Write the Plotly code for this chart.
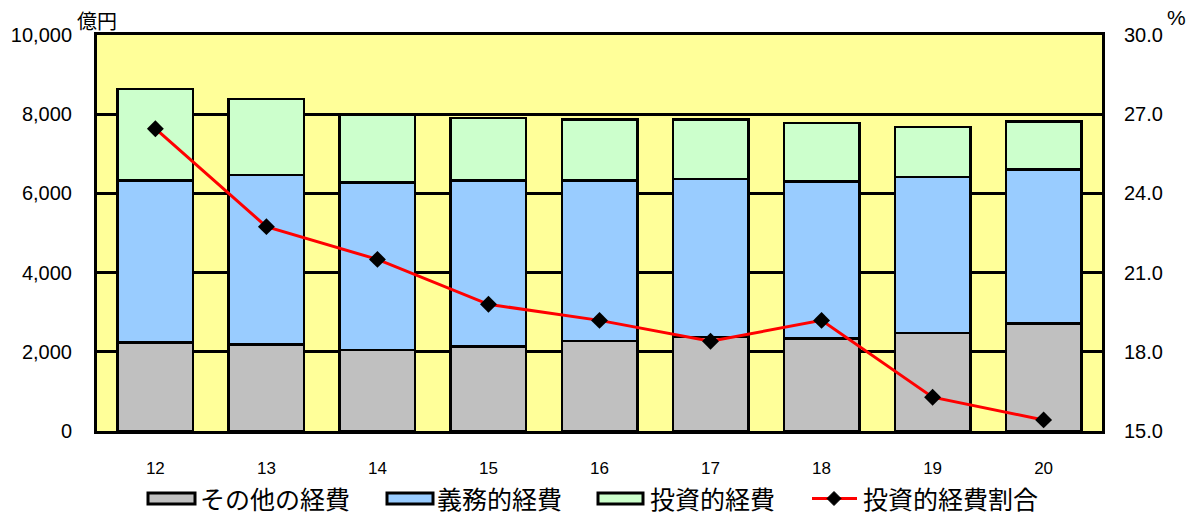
import plotly.graph_objects as go

years = ["12", "13", "14", "15", "16", "17", "18", "19", "20"]
other_cost = [2240, 2190, 2040, 2140, 2270, 2370, 2340, 2470, 2720]
mandatory_cost = [4080, 4280, 4230, 4180, 4050, 4000, 3960, 3950, 3880]
investment_cost = [2320, 1920, 1720, 1590, 1540, 1490, 1480, 1260, 1210]
investment_ratio = [26.45, 22.74, 21.5, 19.8, 19.19, 18.4, 19.19, 16.28, 15.42]

names = ["その他の経費", "義務的経費", "投資的経費", "投資的経費割合"]
colors = ["#C0C0C0", "#99CCFF", "#CCFFCC"]

W, H = 1188, 517
L, R, T, B = 97, 1102, 35, 431

fig = go.Figure()
for vals, name, col in zip([other_cost, mandatory_cost, investment_cost], names[:3], colors):
    fig.add_trace(go.Bar(x=years, y=vals, name=name, marker=dict(color=col, line=dict(color="black", width=2.5)),
                         showlegend=False))
fig.add_trace(go.Scatter(x=years, y=investment_ratio, yaxis="y2", mode="lines+markers", name=names[3],
                         line=dict(color="#FF0000", width=3),
                         marker=dict(symbol="diamond", size=13, color="black"), showlegend=False))

def px(x):
    return (x - L) / (R - L)

def py(y):
    return (B - y) / (B - T)

TEXT_Y = 498
shapes = []
annotations = []
# manual legend
legend_items = [(148, 195, 199), (387, 433, 436), (598, 643, 649)]
for (x0, x1, tx), col, name in zip(legend_items, colors, names[:3]):
    shapes.append(dict(type="rect", xref="paper", yref="paper", x0=px(x0), x1=px(x1), y0=py(504), y1=py(493),
                       fillcolor=col, line=dict(color="black", width=3)))
    annotations.append(dict(text=name, xref="paper", yref="paper", x=px(tx), y=py(TEXT_Y), xanchor="left",
                            yanchor="middle", showarrow=False, borderpad=0,
                            font=dict(family="Noto Sans CJK JP", size=25, color="black")))
shapes.append(dict(type="line", xref="paper", yref="paper", x0=px(812), x1=px(857), y0=py(498.5), y1=py(498.5),
                   line=dict(color="#FF0000", width=3)))
shapes.append(dict(type="path", xref="paper", yref="paper",
                   path=f"M {px(834)} {py(491.5)} L {px(841)} {py(498.5)} L {px(834)} {py(505.5)} L {px(827)} {py(498.5)} Z",
                   fillcolor="black", line=dict(color="black", width=1)))
annotations.append(dict(text=names[3], xref="paper", yref="paper", x=px(862), y=py(TEXT_Y), xanchor="left",
                        yanchor="middle", showarrow=False, borderpad=0,
                        font=dict(family="Noto Sans CJK JP", size=25, color="black")))
annotations.append(dict(text="億円", xref="paper", yref="paper", x=px(97), y=py(20), xanchor="center",
                        yanchor="middle", showarrow=False,
                        font=dict(family="Noto Sans CJK JP", size=20, color="black")))
annotations.append(dict(text="%", xref="paper", yref="paper", x=px(1176), y=py(18), xanchor="center",
                        yanchor="middle", showarrow=False,
                        font=dict(family="Liberation Sans", size=21, color="black")))

fig.update_layout(
    width=W, height=H,
    margin=dict(l=L, r=W - R, t=T, b=H - B, pad=0),
    paper_bgcolor="white",
    plot_bgcolor="#FFFF99",
    barmode="stack",
    bargap=0.32,
    showlegend=False,
    font=dict(family="Liberation Sans", color="black"),
    xaxis=dict(type="category", showline=True, mirror=True, linecolor="black", linewidth=3,
               ticks="", tickfont=dict(size=17), ticklabelstandoff=20, showgrid=False),
    yaxis=dict(range=[0, 10000], dtick=2000, tickformat=",", showgrid=True, gridcolor="black", gridwidth=2.5,
               showline=True, mirror=True, linecolor="black", linewidth=3, zeroline=False,
               ticks="", tickfont=dict(size=20), ticklabelstandoff=18),
    yaxis2=dict(range=[15, 30], dtick=3, tickformat=".1f", overlaying="y", side="right", showgrid=False,
                zeroline=False, showline=False, ticks="", tickfont=dict(size=20), ticklabelstandoff=21),
    shapes=shapes,
    annotations=annotations,
)

fig.write_html("out.html")
